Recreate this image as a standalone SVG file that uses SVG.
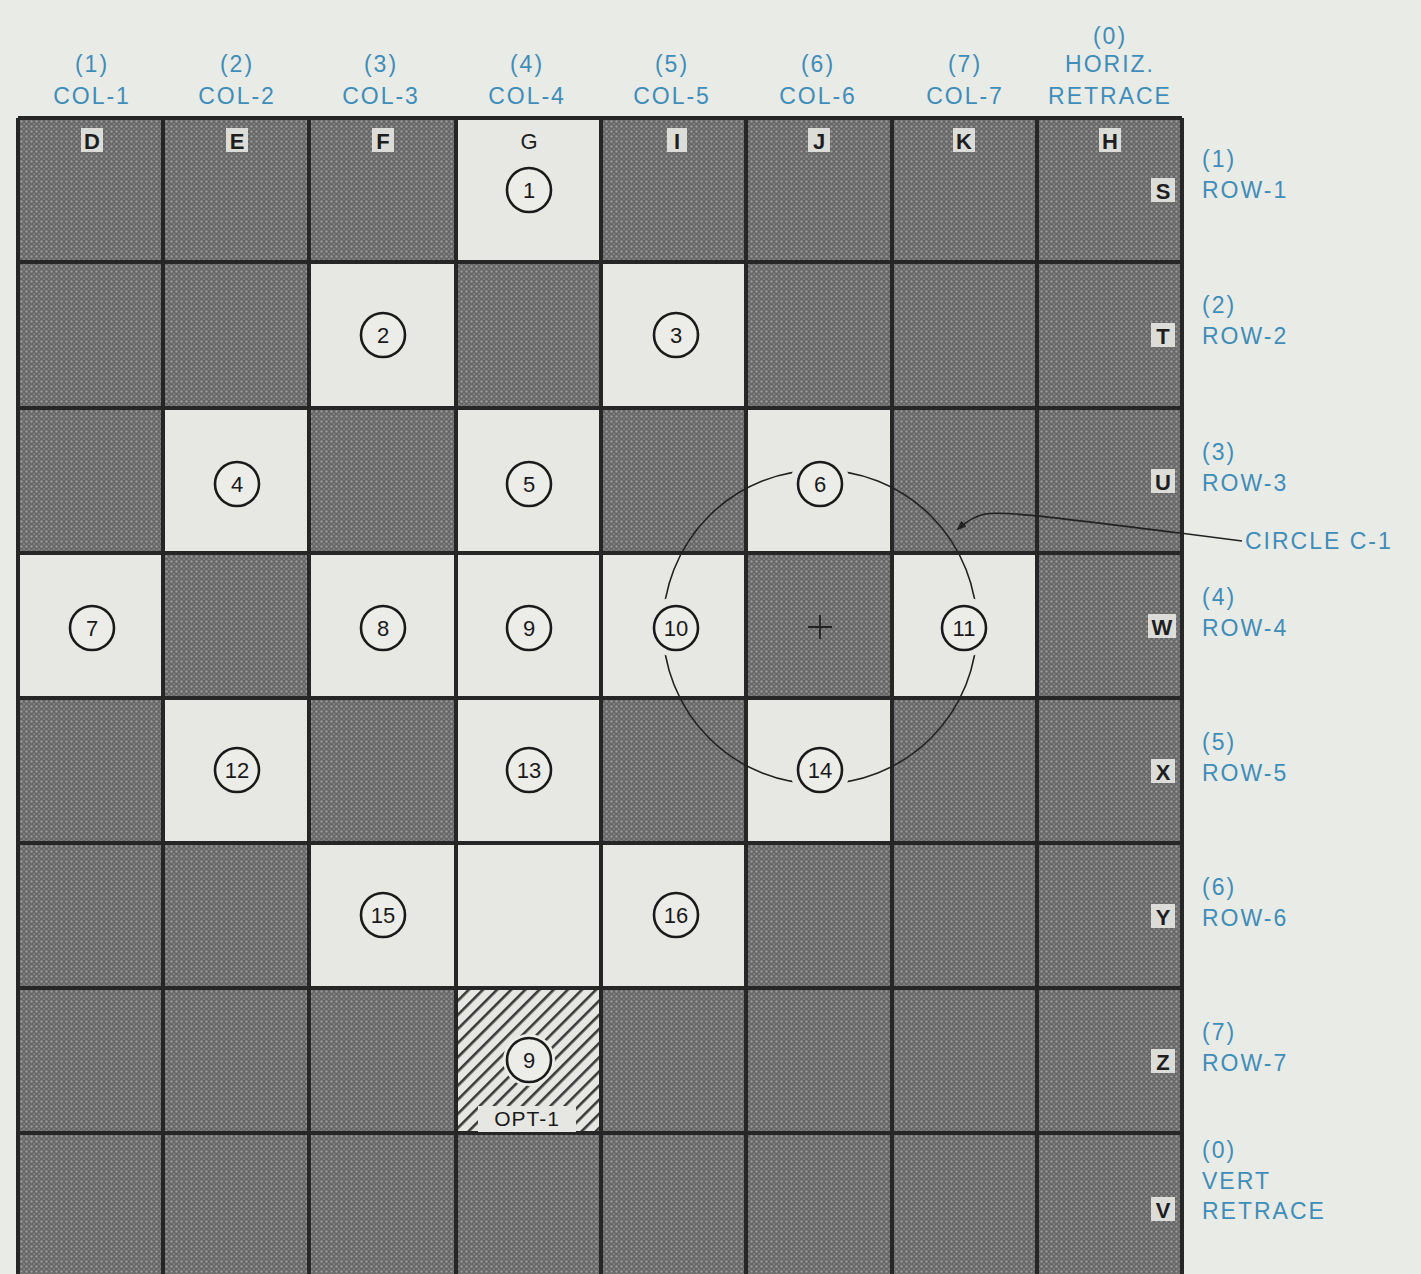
<svg xmlns="http://www.w3.org/2000/svg" width="1421" height="1274" viewBox="0 0 1421 1274">
<defs>
<pattern id="dots" width="5" height="5" patternUnits="userSpaceOnUse">
<rect width="5" height="5" fill="#676767"/>
<circle cx="1.5" cy="1.5" r="1.2" fill="#979797"/>
<circle cx="4" cy="4" r="1.1" fill="#828282"/>
</pattern>
<pattern id="hatch" width="10" height="10" patternUnits="userSpaceOnUse" patternTransform="rotate(45)">
<rect width="10" height="10" fill="#e6e6e2"/>
<rect x="0" y="0" width="2.6" height="10" fill="#3a3a3a"/>
</pattern>
<marker id="arr" markerWidth="10" markerHeight="8" refX="8" refY="4" orient="auto" markerUnits="userSpaceOnUse">
<path d="M0,0 L10,4 L0,8 z" fill="#222"/>
</marker>
</defs>
<style>
.bg{fill:#e9ebe6}
.dk{fill:url(#dots)}
.lt{fill:#e7e8e3}
.lbl{font-family:"Liberation Sans","DejaVu Sans",sans-serif;font-size:23px;fill:#3f8db9;letter-spacing:2px}
.let{font-family:"Liberation Sans","DejaVu Sans",sans-serif;font-size:22px;font-weight:bold;fill:#1e1e1e;text-anchor:middle}
.halo{fill:#dcdcd8}
.num circle{fill:#ecece8;stroke:#1a1a1a;stroke-width:2.6}
.num text{font-family:"Liberation Sans","DejaVu Sans",sans-serif;font-size:22px;fill:#1a1a1a;text-anchor:middle}
.grid{stroke:#262626;stroke-width:4;fill:none}
</style>
<rect class="bg" width="1421" height="1274"/>

<g id="cells">
<rect class="dk" x="18" y="118" width="1164" height="1160"/>
<rect class="lt" x="456" y="118" width="145" height="144"/>
<rect class="lt" x="309" y="262" width="147" height="146"/>
<rect class="lt" x="601" y="262" width="145" height="146"/>
<rect class="lt" x="163" y="408" width="146" height="145"/>
<rect class="lt" x="456" y="408" width="145" height="145"/>
<rect class="lt" x="746" y="408" width="146" height="145"/>
<rect class="lt" x="18" y="553" width="145" height="145"/>
<rect class="lt" x="309" y="553" width="147" height="145"/>
<rect class="lt" x="456" y="553" width="145" height="145"/>
<rect class="lt" x="601" y="553" width="145" height="145"/>
<rect class="lt" x="892" y="553" width="145" height="145"/>
<rect class="lt" x="163" y="698" width="146" height="145"/>
<rect class="lt" x="456" y="698" width="145" height="145"/>
<rect class="lt" x="746" y="698" width="146" height="145"/>
<rect class="lt" x="309" y="843" width="147" height="145"/>
<rect class="lt" x="456" y="843" width="145" height="145"/>
<rect class="lt" x="601" y="843" width="145" height="145"/>
<rect fill="url(#hatch)" x="456" y="988" width="145" height="145"/>
</g>

<g id="grid" class="grid">
<path d="M18,118 V1274 M163,118 V1274 M309,118 V1274 M456,118 V1274 M601,118 V1274 M746,118 V1274 M892,118 V1274 M1037,118 V1274 M1182,118 V1274"/>
<path d="M18,118 H1182 M18,262 H1182 M18,408 H1182 M18,553 H1182 M18,698 H1182 M18,843 H1182 M18,988 H1182 M18,1133 H1182"/>
</g>

<g id="col-letters">
<rect class="halo" x="81" y="128" width="22" height="24"/><text class="let" x="92" y="149">D</text>
<rect class="halo" x="226" y="128" width="22" height="24"/><text class="let" x="237" y="149">E</text>
<rect class="halo" x="372" y="128" width="22" height="24"/><text class="let" x="383" y="149">F</text>
<text class="let" x="529" y="149" style="font-weight:normal">G</text>
<rect class="halo" x="667" y="128" width="20" height="24"/><text class="let" x="677" y="149">I</text>
<rect class="halo" x="808" y="128" width="22" height="24"/><text class="let" x="819" y="149">J</text>
<rect class="halo" x="953" y="128" width="22" height="24"/><text class="let" x="964" y="149">K</text>
<rect class="halo" x="1099" y="128" width="22" height="24"/><text class="let" x="1110" y="149">H</text>
</g>
<g id="row-letters">
<rect class="halo" x="1151" y="178" width="24" height="24"/><text class="let" x="1163" y="199">S</text>
<rect class="halo" x="1151" y="323" width="24" height="24"/><text class="let" x="1163" y="344">T</text>
<rect class="halo" x="1151" y="469" width="24" height="24"/><text class="let" x="1163" y="490">U</text>
<rect class="halo" x="1148" y="614" width="28" height="24"/><text class="let" x="1162" y="635">W</text>
<rect class="halo" x="1151" y="759" width="24" height="24"/><text class="let" x="1163" y="780">X</text>
<rect class="halo" x="1151" y="904" width="24" height="24"/><text class="let" x="1163" y="925">Y</text>
<rect class="halo" x="1151" y="1049" width="24" height="24"/><text class="let" x="1163" y="1070">Z</text>
<rect class="halo" x="1151" y="1197" width="24" height="24"/><text class="let" x="1163" y="1218">V</text>
</g>

<g id="circle-c1">
<circle cx="820" cy="627" r="157" fill="none" stroke="#222" stroke-width="1.6"/>
<circle cx="820" cy="484" r="30" fill="#e7e8e3"/>
<circle cx="676" cy="627" r="30" fill="#e7e8e3"/>
<circle cx="964" cy="627" r="30" fill="#e7e8e3"/>
<circle cx="820" cy="770" r="30" fill="#e7e8e3"/>
<path d="M808,627 H832 M820,615 V639" stroke="#222" stroke-width="1.8" fill="none"/>
</g>

<g id="connectors">
<path d="M1242,541 L1180,533 C1100,524 1010,510 985,514 C975,516 968,520 958,529" fill="none" stroke="#222" stroke-width="1.6" marker-end="url(#arr)"/>
</g>

<g id="n1" class="num"><circle cx="529" cy="190" r="22"/><text x="529" y="198">1</text></g>
<g id="n2" class="num"><circle cx="383" cy="335" r="22"/><text x="383" y="343">2</text></g>
<g id="n3" class="num"><circle cx="676" cy="335" r="22"/><text x="676" y="343">3</text></g>
<g id="n4" class="num"><circle cx="237" cy="484" r="22"/><text x="237" y="492">4</text></g>
<g id="n5" class="num"><circle cx="529" cy="484" r="22"/><text x="529" y="492">5</text></g>
<g id="n6" class="num"><circle cx="820" cy="484" r="22"/><text x="820" y="492">6</text></g>
<g id="n7" class="num"><circle cx="92" cy="628" r="22"/><text x="92" y="636">7</text></g>
<g id="n8" class="num"><circle cx="383" cy="628" r="22"/><text x="383" y="636">8</text></g>
<g id="n9" class="num"><circle cx="529" cy="628" r="22"/><text x="529" y="636">9</text></g>
<g id="n10" class="num"><circle cx="676" cy="628" r="22"/><text x="676" y="636">10</text></g>
<g id="n11" class="num"><circle cx="964" cy="628" r="22"/><text x="964" y="636">11</text></g>
<g id="n12" class="num"><circle cx="237" cy="770" r="22"/><text x="237" y="778">12</text></g>
<g id="n13" class="num"><circle cx="529" cy="770" r="22"/><text x="529" y="778">13</text></g>
<g id="n14" class="num"><circle cx="820" cy="770" r="22"/><text x="820" y="778">14</text></g>
<g id="n15" class="num"><circle cx="383" cy="915" r="22"/><text x="383" y="923">15</text></g>
<g id="n16" class="num"><circle cx="676" cy="915" r="22"/><text x="676" y="923">16</text></g>
<g id="n9opt" class="num">
<circle cx="529" cy="1060" r="26" fill="#e6e6e2" stroke="none" style="stroke:none"/>
<circle cx="529" cy="1060" r="22"/><text x="529" y="1068">9</text>
<rect x="478" y="1106" width="98" height="26" fill="#e6e6e2"/>
<text x="527" y="1126" style="font-size:21px;letter-spacing:1px">OPT-1</text>
</g>

<g id="col-labels" class="lbl" text-anchor="middle">
<text x="92" y="72">(1)</text><text x="92" y="104">COL-1</text>
<text x="237" y="72">(2)</text><text x="237" y="104">COL-2</text>
<text x="381" y="72">(3)</text><text x="381" y="104">COL-3</text>
<text x="527" y="72">(4)</text><text x="527" y="104">COL-4</text>
<text x="672" y="72">(5)</text><text x="672" y="104">COL-5</text>
<text x="818" y="72">(6)</text><text x="818" y="104">COL-6</text>
<text x="965" y="72">(7)</text><text x="965" y="104">COL-7</text>
<text x="1110" y="44">(0)</text><text x="1110" y="72">HORIZ.</text><text x="1110" y="104">RETRACE</text>
</g>
<g id="row-labels" class="lbl">
<text x="1202" y="167">(1)</text><text x="1202" y="198">ROW-1</text>
<text x="1202" y="313">(2)</text><text x="1202" y="344">ROW-2</text>
<text x="1202" y="460">(3)</text><text x="1202" y="491">ROW-3</text>
<text x="1245" y="549">CIRCLE C-1</text>
<text x="1202" y="605">(4)</text><text x="1202" y="636">ROW-4</text>
<text x="1202" y="750">(5)</text><text x="1202" y="781">ROW-5</text>
<text x="1202" y="895">(6)</text><text x="1202" y="926">ROW-6</text>
<text x="1202" y="1040">(7)</text><text x="1202" y="1071">ROW-7</text>
<text x="1202" y="1158">(0)</text><text x="1202" y="1189">VERT</text><text x="1202" y="1219">RETRACE</text>
</g>
</svg>
